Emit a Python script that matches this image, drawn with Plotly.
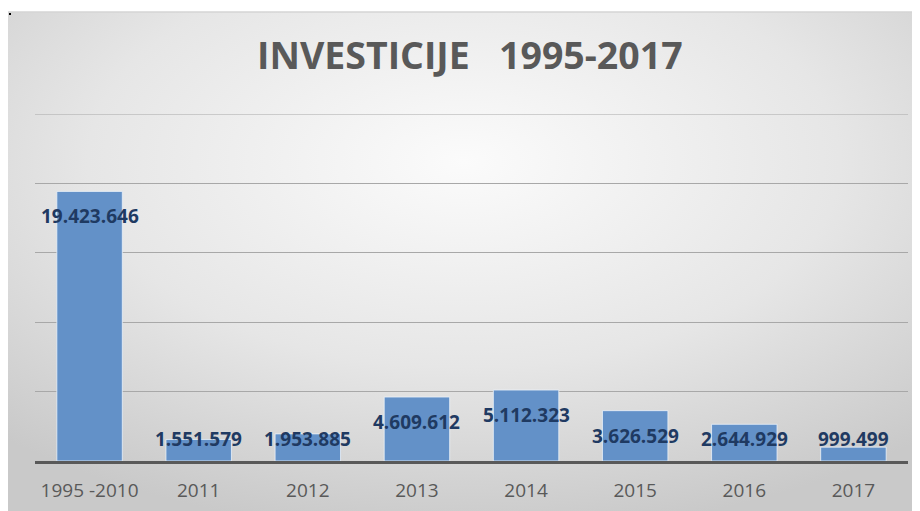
import base64
import plotly.graph_objects as go

categories = ["1995 -2010", "2011", "2012", "2013", "2014", "2015", "2016", "2017"]
values = [19423646, 1551579, 1953885, 4609612, 5112323, 3626529, 2644929, 999499]
value_labels = ["19.423.646", "1.551.579", "1.953.885", "4.609.612",
                "5.112.323", "3.626.529", "2.644.929", "999.499"]
title_text = "INVESTICIJE   1995-2017"

# page has an 8px body margin, so the figure is sized to fill the rest of the 920x511 window
W, H = 912, 503
L, R, T, B = 27, 12, 106, 50
plot_w = W - L - R
plot_h = H - T - B
ymax = 25_000_000
units_per_px = ymax / plot_h

FRAME_TOP = 4  # px from figure top
frame_h = H - FRAME_TOP

svg = f"""<svg xmlns='http://www.w3.org/2000/svg' width='{W}' height='{frame_h}' viewBox='0 0 {W} {frame_h}' preserveAspectRatio='none'>
<defs><radialGradient id='g' cx='50%' cy='30%' r='75%' fx='50%' fy='30%'>
<stop offset='0%' stop-color='#fbfbfb'/><stop offset='55%' stop-color='#e6e6e6'/><stop offset='100%' stop-color='#c9c9c9'/>
</radialGradient></defs><rect width='{W}' height='{frame_h}' fill='url(#g)'/></svg>"""
src = "data:image/svg+xml;base64," + base64.b64encode(svg.encode()).decode()


def px_x(px):
    return (px - L) / plot_w


def px_y(py):
    return (H - B - py) / plot_h


fig = go.Figure()
fig.add_trace(go.Bar(
    x=categories, y=values,
    marker=dict(color="#6391C8", line=dict(color="rgba(235,242,250,0.8)", width=1)),
    hoverinfo="skip",
))

# data labels: inside end, but kept above the baseline for short bars
min_label = 47 * units_per_px
annotations = []
for i, (v, t) in enumerate(zip(values, value_labels)):
    annotations.append(dict(
        x=i, y=max(v, min_label), xref="x", yref="y", text=t, showarrow=False,
        yshift=-25, yanchor="middle",
        font=dict(family="Open Sans", size=19, color="#1F3A62", weight="bold"),
    ))
annotations.append(dict(
    x=px_x(462), y=px_y(47), xref="paper", yref="paper",
    text="<b>" + title_text + "</b>", showarrow=False, xanchor="center", yanchor="middle",
    font=dict(family="Open Sans", size=37.5, color="#595959"),
))

fig.update_layout(
    width=W, height=H,
    margin=dict(l=L, r=R, t=T, b=B, pad=0, autoexpand=False),
    paper_bgcolor="white", plot_bgcolor="rgba(0,0,0,0)",
    bargap=0.4, showlegend=False,
    annotations=annotations,
    images=[dict(source=src, xref="paper", yref="paper", x=px_x(0), y=px_y(FRAME_TOP),
                 sizex=W / plot_w, sizey=frame_h / plot_h, sizing="stretch",
                 xanchor="left", yanchor="top", layer="below")],
    shapes=[
        dict(type="line", xref="paper", yref="paper", x0=px_x(0), x1=px_x(W),
             y0=px_y(FRAME_TOP), y1=px_y(FRAME_TOP), line=dict(color="#d4d4d4", width=1.5)),
        dict(type="rect", xref="paper", yref="paper", x0=px_x(1), x1=px_x(3),
             y0=px_y(5), y1=px_y(7), fillcolor="black", line=dict(width=0)),
        # top gridline at the axis maximum
        dict(type="line", xref="paper", yref="y", x0=0, x1=1, y0=ymax, y1=ymax,
             line=dict(color="#a8a8a8", width=1), layer="below"),
    ],
    xaxis=dict(type="category", range=[-0.5, len(categories) - 0.5], showline=True,
               linecolor="#595959", linewidth=3, ticks="outside", ticklen=10,
               tickcolor="rgba(0,0,0,0)",
               tickfont=dict(family="Open Sans", size=19, color="#595959"),
               showgrid=False, fixedrange=True, automargin=False),
    yaxis=dict(range=[0, ymax], tick0=0, dtick=5_000_000, showticklabels=False,
               showgrid=True, gridcolor="#a8a8a8", gridwidth=1, zeroline=False,
               showline=False, ticks="", automargin=False),
)

fig.write_html("out.html")
